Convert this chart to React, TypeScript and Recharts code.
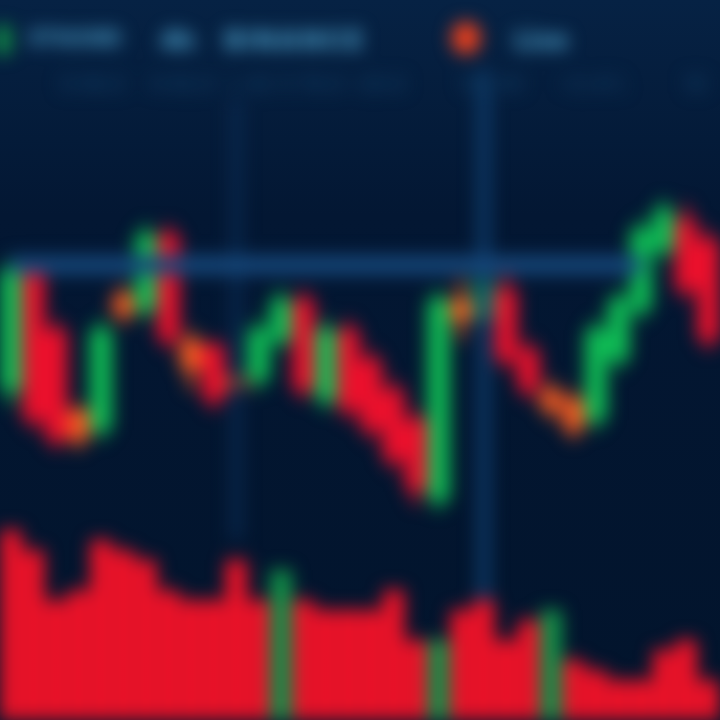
import React from 'react';
import { Bar, ComposedChart, ReferenceLine, XAxis, YAxis } from 'recharts';

// candles, read left to right
const opens = [66, 90, 78, 62, 58, 81, 82, 97, 76, 75, 69, 68, 76, 84, 64, 78, 72, 66, 60, 44, 80, 80, 86, 74, 66, 64, 60, 72, 82, 94, 100, 96];
const closes = [90, 60, 56, 56, 78, 85, 97, 76, 70, 64, 66, 78, 84, 66, 78, 62, 58, 52, 46, 84, 84, 88, 72, 66, 62, 58, 78, 84, 98, 102, 86, 76];
const highs = [92, 92, 80, 63, 80, 87, 99, 99, 78, 76, 76, 80, 86, 86, 80, 80, 74, 68, 62, 86, 88, 91, 89, 76, 68, 66, 80, 86, 100, 104, 103, 98];
const lows = [63, 58, 54, 54, 56, 79, 80, 74, 66, 62, 64, 66, 74, 64, 62, 60, 56, 50, 43, 42, 76, 78, 70, 64, 60, 56, 58, 70, 80, 92, 84, 74];
const volumes = [190, 170, 120, 130, 180, 170, 160, 130, 120, 120, 160, 120, 150, 120, 110, 110, 110, 130, 80, 80, 110, 120, 80, 100, 110, 60, 50, 40, 40, 70, 80, 40];
const volumeSides = ['down', 'down', 'down', 'down', 'down', 'down', 'down', 'down', 'down', 'down', 'down', 'down', 'up', 'down', 'down', 'down', 'down', 'down', 'down', 'up', 'down', 'down', 'down', 'down', 'up', 'down', 'down', 'down', 'down', 'down', 'down', 'down'];

const supportLevel = 91;
const markerA = 10;
const markerB = 21;

const headerTexts = ['ETH/USD', '4h', 'BINANCE'];
const liveText = 'Live';
const statLabels = ['O 66.0', 'H 92.0', 'L 42', 'C 76.0 −20.0', 'Vol 40', '+2.4%', '1D'];
const statPositions = [60, 150, 230, 280, 460, 560, 684];

const data = opens.map((o, i) => ({
    idx: i,
    open: o,
    close: closes[i],
    high: highs[i],
    low: lows[i],
    volume: volumes[i],
    side: volumeSides[i],
}));

const UP = '#0fbf55';
const DOWN = '#f0102c';
const FLAT = '#f55a20';

const Candle = (props: any) => {
    const { x = 0, y = 0, width = 0, height = 0, payload } = props;
    const { open, close, high, low } = payload;
    const span = high - low || 1;
    const toY = (v: number) => y + ((high - v) / span) * height;
    const top = toY(Math.max(open, close));
    const bottom = toY(Math.min(open, close));
    const diff = close - open;
    const color = Math.abs(diff) <= 6 ? FLAT : diff > 0 ? UP : DOWN;
    const cx = x + width / 2;
    return (
        <g>
            <rect x={cx - 3} y={y} width={6} height={height} fill={color} />
            <rect x={x} y={top} width={width} height={Math.max(bottom - top, 4)} fill={color} />
        </g>
    );
};

const VolumeBar = (props: any) => {
    const { x = 0, y = 0, width = 0, height = 0, payload } = props;
    return <rect x={x} y={y} width={width} height={height} fill={payload.side === 'up' ? '#13994a' : '#ff1228'} />;
};

export default function App() {
    return (
        <div
            style={{
                position: 'absolute',
                left: 0,
                top: 0,
                width: 720,
                height: 720,
                overflow: 'hidden',
                background: 'linear-gradient(180deg, #062244 0%, #031733 30%, #02142c 100%)',
            }}
        >
            <div style={{ position: 'absolute', inset: 0, filter: 'blur(9px)' }}>
                <ComposedChart width={720} height={720} data={data} margin={{ top: 0, right: 0, bottom: 0, left: 0 }}>
                    <XAxis xAxisId="c" dataKey="idx" hide padding={{ left: 0, right: 0 }} />
                    <XAxis xAxisId="v" dataKey="idx" hide padding={{ left: 0, right: 0 }} />
                    <YAxis yAxisId="p" hide domain={[0, 144]} />
                    <YAxis yAxisId="vol" hide domain={[0, 720]} />
                    <Bar
                        xAxisId="v"
                        yAxisId="vol"
                        dataKey="volume"
                        barSize={24}
                        shape={<VolumeBar />}
                        isAnimationActive={false}
                    />
                    <ReferenceLine
                        xAxisId="c"
                        yAxisId="p"
                        segment={[
                            { x: markerA, y: 124 },
                            { x: markerA, y: 36 },
                        ]}
                        stroke="#0a2b52"
                        strokeWidth={10}
                    />
                    <ReferenceLine
                        xAxisId="c"
                        yAxisId="p"
                        segment={[
                            { x: markerB, y: 130 },
                            { x: markerB, y: 24 },
                        ]}
                        stroke="#0e3d6c"
                        strokeWidth={12}
                    />
                    <ReferenceLine
                        xAxisId="c"
                        yAxisId="p"
                        segment={[
                            { x: 0, y: supportLevel },
                            { x: 28, y: supportLevel },
                        ]}
                        stroke="#16487c"
                        strokeWidth={18}
                    />
                    <Bar
                        xAxisId="c"
                        yAxisId="p"
                        dataKey={(d: any) => [d.low, d.high]}
                        barSize={22}
                        shape={<Candle />}
                        isAnimationActive={false}
                    />
                </ComposedChart>
                <div
                    style={{
                        position: 'absolute',
                        left: 0,
                        top: 22,
                        width: 720,
                        height: 40,
                        fontFamily: 'Inter, sans-serif',
                        fontWeight: 800,
                        fontSize: 26,
                        color: '#4fa6d0',
                    }}
                >
                    <div style={{ position: 'absolute', left: -4, top: 4, width: 14, height: 28, background: '#12a048' }} />
                    <span style={{ position: 'absolute', left: 30, top: 4, fontSize: 20 }}>{headerTexts[0]}</span>
                    <span style={{ position: 'absolute', left: 160, top: 2 }}>{headerTexts[1]}</span>
                    <span style={{ position: 'absolute', left: 225, top: 2, letterSpacing: 3 }}>{headerTexts[2]}</span>
                    <div
                        style={{
                            position: 'absolute',
                            left: 452,
                            top: 0,
                            width: 28,
                            height: 32,
                            borderRadius: 14,
                            background: '#f0401c',
                        }}
                    />
                    <span style={{ position: 'absolute', left: 515, top: 2 }}>{liveText}</span>
                </div>
                {statLabels.map((s, i) => (
                    <span
                        key={s}
                        style={{
                            position: 'absolute',
                            left: statPositions[i],
                            top: 72,
                            fontFamily: 'Inter, sans-serif',
                            fontWeight: 700,
                            fontSize: 20,
                            color: '#0f3a60',
                            whiteSpace: 'nowrap',
                        }}
                    >
                        {s}
                    </span>
                ))}
            </div>
        </div>
    );
}
